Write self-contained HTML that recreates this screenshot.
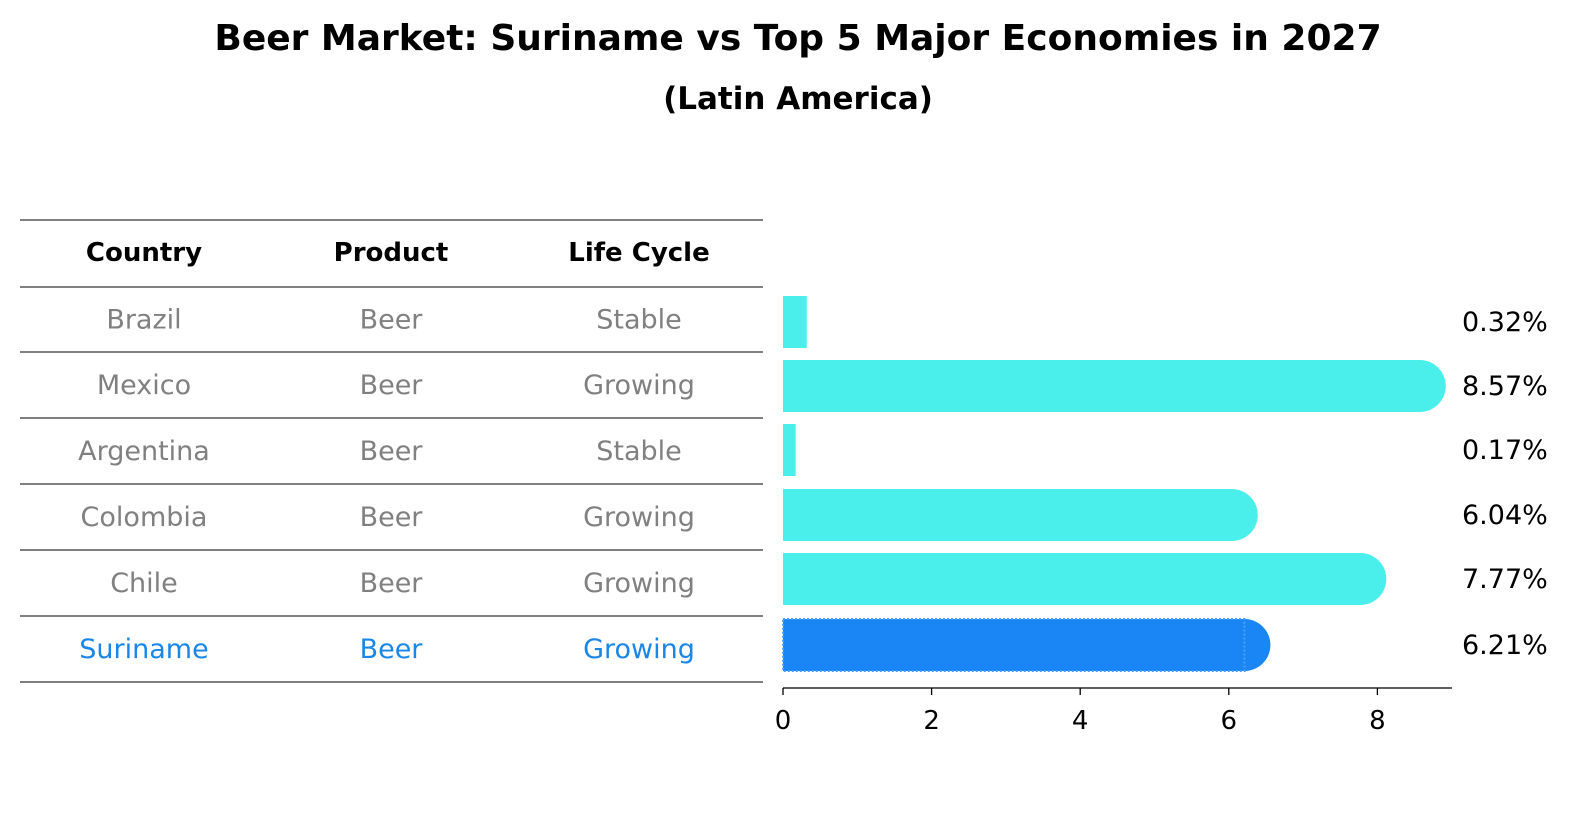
<!DOCTYPE html>
<html><head><meta charset="utf-8"><style>
html,body{margin:0;padding:0;background:#fff;overflow:hidden;width:1586px;height:823px}
svg{display:block}
svg text{font-family:"DejaVu Sans","Liberation Sans",sans-serif}
</style></head><body>
<svg id="c" width="1586" height="823" viewBox="0 0 1586 823">
<text x="798" y="50" text-anchor="middle" style="font-size:36px;font-weight:bold">Beer Market: Suriname vs Top 5 Major Economies in 2027</text>
<text x="798" y="109" text-anchor="middle" style="font-size:31px;font-weight:bold">(Latin America)</text>
<g id="table"></g>
<g id="bars"></g>
</svg>
<script>
const countries=["Brazil","Mexico","Argentina","Colombia","Chile","Suriname"];
const products=["Beer","Beer","Beer","Beer","Beer","Beer"];
const lifeCycles=["Stable","Growing","Stable","Growing","Growing","Growing"];
const values=[0.32,8.57,0.17,6.04,7.77,6.21];
const ticks=[0,2,4,6,8];
const NS="http://www.w3.org/2000/svg";
function mk(tag,attrs,parent,txt){const e=document.createElementNS(NS,tag);for(const k in attrs)e.setAttribute(k,attrs[k]);if(txt!==undefined)e.textContent=txt;parent.appendChild(e);return e;}
const tbl=document.getElementById('table'),bars=document.getElementById('bars');
const lineY=[220,287,352,418,484,550,616,682];
lineY.forEach(y=>{const l=mk('line',{x1:20,x2:763,y1:y,y2:y,stroke:'#000','stroke-width':1},tbl);

});
const colX=[144,391,639];
["Country","Product","Life Cycle"].forEach((h,i)=>{const t=mk('text',{x:colX[i],y:261,'text-anchor':'middle',style:'font-size:26px;font-weight:bold'},tbl,h);

});
const x=v=>783+v*74.3;
const rowC=i=>(lineY[i+1]+lineY[i+2])/2;
countries.forEach((c,i)=>{
 const col=i===5?'#1a86e8':'#808080';
 [c,products[i],lifeCycles[i]].forEach((s,j)=>{const t=mk('text',{x:colX[j],y:rowC(i)+9,'text-anchor':'middle',style:'font-size:27px',fill:col},tbl,s);
 
 });
 const cy=[322,386,450,515,579,645][i], h=52, w=x(values[i])-x(0);
 const fill=i===5?'#1a86f5':'#4aeeea';
 const g=mk('g',{},bars);
 
 
 mk('rect',{x:x(0),y:cy-h/2,width:w,height:h,fill:fill},g);
 if(values[i]>1) mk('circle',{cx:x(values[i]),cy:cy,r:h/2,fill:fill},g);
 if(i===5) mk('rect',{x:x(0),y:cy-h/2,width:w,height:h,fill:'none',stroke:'#4aa0ff','stroke-width':2,'stroke-dasharray':'2,2'},g);
 const t=mk('text',{x:1462,y:cy+9,style:'font-size:27px'},bars,values[i].toFixed(2)+'%');
 
 
});
const ax=mk('line',{x1:783,x2:1452,y1:688,y2:688,stroke:'#000','stroke-width':1.3},bars);


ticks.forEach(v=>{mk('line',{x1:x(v),x2:x(v),y1:688,y2:695,stroke:'#000','stroke-width':1.3},bars);
 const t=mk('text',{x:x(v),y:729,'text-anchor':'middle',style:'font-size:26px'},bars,String(v));
 
 });
</script>
</body></html>
